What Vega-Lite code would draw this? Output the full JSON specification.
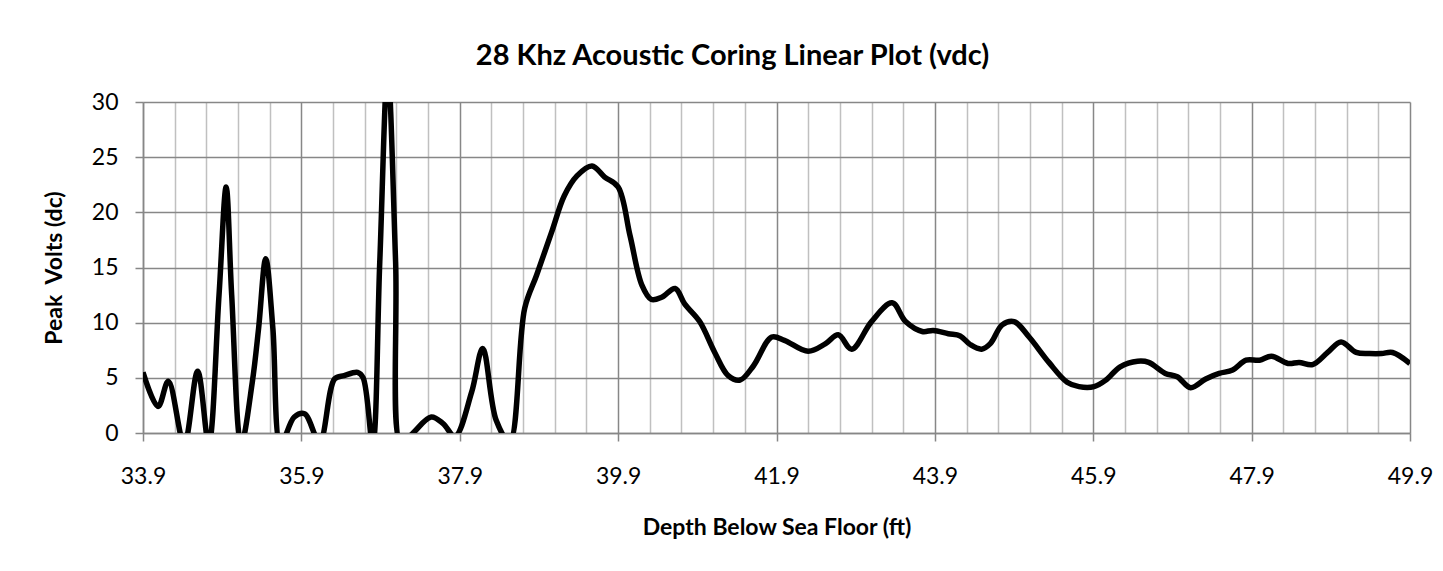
{
  "$schema": "https://vega.github.io/schema/vega-lite/v6.json",
  "autosize": "none",
  "width": 1267,
  "height": 331,
  "padding": {"left": 143, "top": 102, "right": 33, "bottom": 138},
  "background": "white",
  "title": {
    "text": "28 Khz Acoustic Coring Linear Plot (vdc)",
    "font": "Lato",
    "fontSize": 29,
    "fontWeight": "bold",
    "color": "black",
    "anchor": "middle",
    "frame": "group",
    "dx": -44,
    "offset": -2
  },
  "config": {
    "view": {"stroke": null},
    "axis": {
      "labelFont": "Lato",
      "labelFontSize": 23,
      "labelColor": "black",
      "labelFlush": false,
      "titleFont": "Lato",
      "titleFontSize": 23,
      "titleFontWeight": "bold",
      "titleColor": "black",
      "domainColor": "#878787",
      "domainWidth": 1.5,
      "tickColor": "#878787",
      "tickWidth": 1.5,
      "gridColor": "#878787",
      "gridWidth": 1.5,
      "gridOpacity": 1
    }
  },
  "data": {
    "values": [
      {"depth": 33.9, "volts": 5.5},
      {"depth": 34.09, "volts": 2.4},
      {"depth": 34.22, "volts": 4.7},
      {"depth": 34.42, "volts": -1},
      {"depth": 34.59, "volts": 5.6},
      {"depth": 34.73, "volts": -1},
      {"depth": 34.86, "volts": 12.5},
      {"depth": 34.95, "volts": 22.3},
      {"depth": 35.02, "volts": 12.5},
      {"depth": 35.14, "volts": -1},
      {"depth": 35.28, "volts": 4.6},
      {"depth": 35.36, "volts": 9.5},
      {"depth": 35.45, "volts": 15.8},
      {"depth": 35.54, "volts": 9.5},
      {"depth": 35.64, "volts": -1},
      {"depth": 35.81, "volts": 1.45},
      {"depth": 35.94, "volts": 1.75},
      {"depth": 36.13, "volts": -0.8},
      {"depth": 36.32, "volts": 4.9},
      {"depth": 36.44, "volts": 5.2},
      {"depth": 36.61, "volts": 5.5},
      {"depth": 36.68, "volts": 5.0},
      {"depth": 36.8, "volts": -1},
      {"depth": 36.89, "volts": 15.5},
      {"depth": 36.99, "volts": 33},
      {"depth": 37.09, "volts": 15.5},
      {"depth": 37.16, "volts": -1},
      {"depth": 37.31, "volts": 0},
      {"depth": 37.54, "volts": 1.45},
      {"depth": 37.69, "volts": 0.85},
      {"depth": 37.84, "volts": -0.3},
      {"depth": 38.05, "volts": 3.7},
      {"depth": 38.19, "volts": 7.65},
      {"depth": 38.36, "volts": 1.15},
      {"depth": 38.53, "volts": -0.8},
      {"depth": 38.72, "volts": 11.3},
      {"depth": 38.87, "volts": 14.3},
      {"depth": 39.06, "volts": 18.2},
      {"depth": 39.22, "volts": 21.5},
      {"depth": 39.38, "volts": 23.3},
      {"depth": 39.57, "volts": 24.2},
      {"depth": 39.73, "volts": 23.2},
      {"depth": 39.9, "volts": 22.3},
      {"depth": 40.05, "volts": 17.9},
      {"depth": 40.2, "volts": 13.4},
      {"depth": 40.32, "volts": 12.1},
      {"depth": 40.45, "volts": 12.3},
      {"depth": 40.62, "volts": 13.1},
      {"depth": 40.74, "volts": 11.7},
      {"depth": 40.93, "volts": 10.1},
      {"depth": 41.12, "volts": 7.3},
      {"depth": 41.29, "volts": 5.2},
      {"depth": 41.44, "volts": 4.8},
      {"depth": 41.61, "volts": 6.1},
      {"depth": 41.84, "volts": 8.7},
      {"depth": 42.0, "volts": 8.4},
      {"depth": 42.3, "volts": 7.4},
      {"depth": 42.52, "volts": 8.1},
      {"depth": 42.68, "volts": 8.9},
      {"depth": 42.85, "volts": 7.6},
      {"depth": 43.1, "volts": 10.1},
      {"depth": 43.36, "volts": 11.8},
      {"depth": 43.53, "volts": 10.1},
      {"depth": 43.74, "volts": 9.2},
      {"depth": 43.88, "volts": 9.3},
      {"depth": 44.07, "volts": 9.0},
      {"depth": 44.22, "volts": 8.8},
      {"depth": 44.35, "volts": 8.0},
      {"depth": 44.49, "volts": 7.6},
      {"depth": 44.6, "volts": 8.1},
      {"depth": 44.75, "volts": 9.8},
      {"depth": 44.9, "volts": 10.1},
      {"depth": 45.09, "volts": 8.7},
      {"depth": 45.34, "volts": 6.4},
      {"depth": 45.57, "volts": 4.6},
      {"depth": 45.72, "volts": 4.2},
      {"depth": 45.91, "volts": 4.2},
      {"depth": 46.06, "volts": 4.8},
      {"depth": 46.24, "volts": 6.0},
      {"depth": 46.46, "volts": 6.5},
      {"depth": 46.6, "volts": 6.4},
      {"depth": 46.81, "volts": 5.4},
      {"depth": 46.96, "volts": 5.1},
      {"depth": 47.13, "volts": 4.1},
      {"depth": 47.32, "volts": 4.9},
      {"depth": 47.49, "volts": 5.4},
      {"depth": 47.66, "volts": 5.7},
      {"depth": 47.83, "volts": 6.6},
      {"depth": 48.0, "volts": 6.6},
      {"depth": 48.15, "volts": 6.95},
      {"depth": 48.36, "volts": 6.3},
      {"depth": 48.5, "volts": 6.4},
      {"depth": 48.67, "volts": 6.2},
      {"depth": 48.86, "volts": 7.3},
      {"depth": 49.03, "volts": 8.25},
      {"depth": 49.22, "volts": 7.3},
      {"depth": 49.39, "volts": 7.2},
      {"depth": 49.54, "volts": 7.2},
      {"depth": 49.68, "volts": 7.3},
      {"depth": 49.9, "volts": 6.3}
    ]
  },
  "layer": [
    {
      "mark": {"type": "line", "strokeOpacity": 0},
      "encoding": {
        "x": {
          "field": "depth",
          "type": "quantitative",
          "scale": {"domain": [33.9, 49.9], "nice": false, "zero": false},
          "axis": {
            "orient": "top",
            "values": [34.3, 34.7, 35.1, 35.5, 36.3, 36.7, 37.1, 37.5, 38.3, 38.7, 39.1, 39.5, 40.3, 40.7, 41.1, 41.5, 42.3, 42.7, 43.1, 43.5, 44.3, 44.7, 45.1, 45.5, 46.3, 46.7, 47.1, 47.5, 48.3, 48.7, 49.1, 49.5],
            "grid": true,
            "gridColor": "#c0c0c0",
            "labels": false,
            "ticks": false,
            "domain": false,
            "title": null
          }
        },
        "y": {
          "field": "volts",
          "type": "quantitative",
          "scale": {"domain": [0, 30], "nice": false},
          "axis": {
            "values": [0, 5, 10, 15, 20, 25, 30],
            "title": "Peak\u00a0 Volts (dc)",
            "tickSize": 8,
            "labelPadding": 17,
            "titlePadding": 25,
            "grid": true
          }
        }
      }
    },
    {
      "mark": {"type": "line", "interpolate": "catmull-rom", "clip": true, "color": "black", "strokeWidth": 5.5},
      "encoding": {
        "x": {
          "field": "depth",
          "type": "quantitative",
          "scale": {"domain": [33.9, 49.9], "nice": false, "zero": false},
          "axis": {
            "values": [33.9, 35.9, 37.9, 39.9, 41.9, 43.9, 45.9, 47.9, 49.9],
            "format": ".1f",
            "title": "Depth Below Sea Floor (ft)",
            "tickSize": 8,
            "labelPadding": 24,
            "titlePadding": 28,
            "grid": true
          }
        },
        "y": {
          "field": "volts",
          "type": "quantitative",
          "scale": {"domain": [0, 30], "nice": false},
          "axis": {
            "values": [0, 5, 10, 15, 20, 25, 30],
            "title": "Peak\u00a0 Volts (dc)",
            "tickSize": 8,
            "labelPadding": 17,
            "titlePadding": 25,
            "grid": true
          }
        }
      }
    }
  ],
  "resolve": {"axis": {"x": "independent"}}
}
